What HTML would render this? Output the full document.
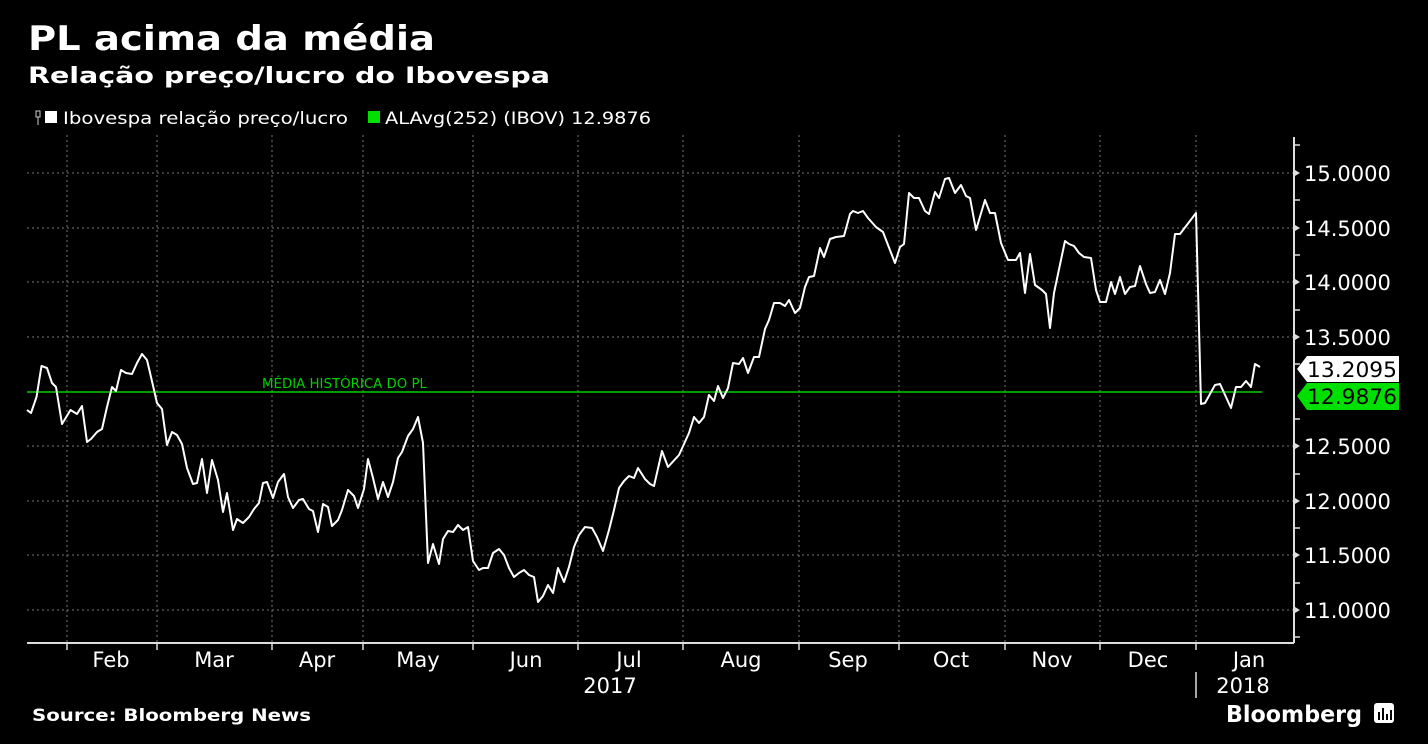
<!DOCTYPE html>
<html><head><meta charset="utf-8"><style>
html,body{margin:0;padding:0;background:#000;}
svg{display:block;font-family:"DejaVu Sans","Liberation Sans",sans-serif;}
</style></head><body>
<svg width="1428" height="744" viewBox="0 0 1428 744" xmlns="http://www.w3.org/2000/svg">
<rect width="1428" height="744" fill="#000"/>
<text x="28" y="50" fill="#fff" font-size="34" font-weight="bold" textLength="407" lengthAdjust="spacingAndGlyphs">PL acima da média</text>
<text x="28" y="83" fill="#fff" font-size="22" font-weight="bold" textLength="522" lengthAdjust="spacingAndGlyphs">Relação preço/lucro do Ibovespa</text>
<g font-size="17" fill="#fff">
<rect x="36" y="111" width="4" height="6" fill="none" stroke="#ccc" stroke-width="1"/>
<line x1="38" y1="117" x2="38" y2="125" stroke="#ccc"/>
<rect x="45" y="111" width="12" height="12" fill="#fff"/>
<text x="63" y="124" textLength="285" lengthAdjust="spacingAndGlyphs">Ibovespa relação preço/lucro</text>
<rect x="368" y="111" width="12" height="12" fill="#00e000"/>
<text x="385" y="124" textLength="266" lengthAdjust="spacingAndGlyphs">ALAvg(252) (IBOV) 12.9876</text>
</g>
<g stroke="#777" stroke-width="1" stroke-dasharray="2,3">
<line x1="27" y1="173" x2="1293" y2="173"/>
<line x1="27" y1="228" x2="1293" y2="228"/>
<line x1="27" y1="282" x2="1293" y2="282"/>
<line x1="27" y1="337" x2="1293" y2="337"/>
<line x1="27" y1="446" x2="1293" y2="446"/>
<line x1="27" y1="501" x2="1293" y2="501"/>
<line x1="27" y1="555" x2="1293" y2="555"/>
<line x1="27" y1="610" x2="1293" y2="610"/>
<line x1="67" y1="135" x2="67" y2="643"/>
<line x1="157" y1="135" x2="157" y2="643"/>
<line x1="272" y1="135" x2="272" y2="643"/>
<line x1="363" y1="135" x2="363" y2="643"/>
<line x1="473" y1="135" x2="473" y2="643"/>
<line x1="578" y1="135" x2="578" y2="643"/>
<line x1="683" y1="135" x2="683" y2="643"/>
<line x1="799" y1="135" x2="799" y2="643"/>
<line x1="899" y1="135" x2="899" y2="643"/>
<line x1="1005" y1="135" x2="1005" y2="643"/>
<line x1="1100" y1="135" x2="1100" y2="643"/>
<line x1="1196" y1="135" x2="1196" y2="643"/>
</g>
<line x1="27" y1="392" x2="1262" y2="392" stroke="#00d000" stroke-width="1.5"/>
<text x="262" y="388" fill="#00d000" font-size="13" textLength="165" lengthAdjust="spacingAndGlyphs">MÉDIA HISTÓRICA DO PL</text>
<g stroke="#ddd" stroke-width="2" fill="none">
<line x1="27" y1="643" x2="1294" y2="643"/>
<line x1="1294" y1="137" x2="1294" y2="643"/>
</g>
<g stroke="#ddd" stroke-width="1.5">
<line x1="67" y1="643" x2="67" y2="650"/><line x1="157" y1="643" x2="157" y2="650"/><line x1="272" y1="643" x2="272" y2="650"/><line x1="363" y1="643" x2="363" y2="650"/><line x1="473" y1="643" x2="473" y2="650"/><line x1="578" y1="643" x2="578" y2="650"/><line x1="683" y1="643" x2="683" y2="650"/><line x1="799" y1="643" x2="799" y2="650"/><line x1="899" y1="643" x2="899" y2="650"/><line x1="1005" y1="643" x2="1005" y2="650"/><line x1="1100" y1="643" x2="1100" y2="650"/><line x1="1196" y1="643" x2="1196" y2="650"/>
<line x1="1196" y1="672" x2="1196" y2="698"/>
<line x1="1294" y1="145" x2="1300" y2="145"/><line x1="1294" y1="200" x2="1300" y2="200"/><line x1="1294" y1="255" x2="1300" y2="255"/><line x1="1294" y1="310" x2="1300" y2="310"/><line x1="1294" y1="364" x2="1300" y2="364"/><line x1="1294" y1="419" x2="1300" y2="419"/><line x1="1294" y1="474" x2="1300" y2="474"/><line x1="1294" y1="528" x2="1300" y2="528"/><line x1="1294" y1="583" x2="1300" y2="583"/><line x1="1294" y1="637" x2="1300" y2="637"/>
</g>
<g fill="#ddd">
<polygon points="1295,170 1300,173 1295,176"/><polygon points="1295,225 1300,228 1295,231"/><polygon points="1295,279 1300,282 1295,285"/><polygon points="1295,334 1300,337 1295,340"/><polygon points="1295,443 1300,446 1295,449"/><polygon points="1295,498 1300,501 1295,504"/><polygon points="1295,552 1300,555 1295,558"/><polygon points="1295,607 1300,610 1295,613"/>
</g>
<g fill="#fff" font-size="21">
<text x="1304" y="181">15.0000</text><text x="1304" y="236">14.5000</text><text x="1304" y="290">14.0000</text><text x="1304" y="345">13.5000</text><text x="1304" y="454">12.5000</text><text x="1304" y="509">12.0000</text><text x="1304" y="563">11.5000</text><text x="1304" y="618">11.0000</text>
</g>
<polygon points="1297,369 1307,356 1399,356 1399,382 1307,382" fill="#fff"/>
<text x="1307" y="377" fill="#000" font-size="21" textLength="90" lengthAdjust="spacingAndGlyphs">13.2095</text>
<polygon points="1297,396 1307,383 1399,383 1399,410 1307,410" fill="#00e000"/>
<text x="1307" y="404" fill="#000" font-size="21" textLength="90" lengthAdjust="spacingAndGlyphs">12.9876</text>
<polyline fill="none" stroke="#fff" stroke-width="2" stroke-linejoin="round" points="27,410 31,413 36.5,397 41.5,366 47,368 52,383 56,387 62,424 70.5,410 77,414 82,406 87,442 91,439 97,432 102,429 107,407 112,387 116,391 121,370 126,373 132,374 137,363 142,354 147,360 151,377 157,403 162,409 167,445 172,432 177,435 182,444 187,468 193,484 197,483 202,459 207,493 212,460 218,480 223,512 227,493 233,530 237,519 243,523 249,517 254,509 259,503 263,483 267,482 273,498 278,482 284,474 288,497 293,508 299,500 303,499 309,509 313,511 318,532 323,504 328,507 332,526 338,520 342,510 348,490 354,496 358,508 364,489 368,459 373,478 378,499 383,482 388,497 393,482 398,458 402,452 408,436 413,429 418,417 423,443 428,563 433,544 439,564 443,539 448,531 453,532 458,525 463,530 468,527 473,561 479,570 483,568 488,568 493,553 499,549 504,555 509,568 514,577 519,573 524,570 529,575 534,577 538,602 543,596 548,585 553,593 558,568 564,582 569,567 574,547 579,535 585,527 592,528 597,537 603,551 609,530 614,510 619,488 624,481 629,476 634,478 638,468 645,479 650,484 654,486 662,451 668,467 679,455 689,433 694,417 699,423 704,417 709,395 714,401 718,386 723,398 728,388 733,363 739,364 743,358 748,373 754,357 759,357 765,329 769,320 774,303 780,303 785,306 789,300 795,313 800,308 805,287 809,277 814,276 820,248 824,257 830,239 836,237 844,236 850,214 853,211 858,213 863,211 868,218 876,227 883,232 888,245 895,263 900,247 904,244 909,193 914,198 919,198 925,211 929,214 935,192 939,198 945,179 949,178 955,193 961,185 966,196 970,198 976,230 985,200 990,213 995,213 1001,243 1008,260 1016,260 1020,253 1025,293 1030,254 1035,285 1042,290 1046,294 1050,328 1054,293 1065,241 1069,244 1074,246 1079,253 1084,257 1091,258 1096,290 1100,302 1106,302 1111,282 1115,294 1120,277 1125,294 1130,287 1135,286 1140,266 1146,284 1150,293 1155,292 1160,280 1165,294 1170,273 1175,234 1180,234 1196,213 1201,404 1205,403 1215,385 1220,384 1231,408 1236,387 1241,387 1246,381 1251,387 1255,364 1260,367"/>
<g fill="#fff" font-size="21" text-anchor="middle">
<text x="111" y="667">Feb</text><text x="214" y="667">Mar</text><text x="317" y="667">Apr</text><text x="418" y="667">May</text><text x="526" y="667">Jun</text><text x="629" y="667">Jul</text><text x="741" y="667">Aug</text><text x="848" y="667">Sep</text><text x="951" y="667">Oct</text><text x="1052" y="667">Nov</text><text x="1148" y="667">Dec</text><text x="1249" y="667">Jan</text>
<text x="610" y="693">2017</text><text x="1243" y="693">2018</text>
</g>
<text x="32" y="721" fill="#fff" font-size="17" font-weight="bold" textLength="279" lengthAdjust="spacingAndGlyphs">Source: Bloomberg News</text>
<text x="1226" y="722" fill="#fff" font-size="23" font-weight="bold" textLength="136" lengthAdjust="spacingAndGlyphs">Bloomberg</text>
<rect x="1374" y="703" width="20" height="20" rx="3" fill="#fff"/>
<g fill="#000"><rect x="1378" y="712" width="2" height="8"/><rect x="1382" y="708" width="2" height="12"/><rect x="1386" y="714" width="2" height="6"/><rect x="1390" y="710" width="2" height="10"/></g>
</svg>
</body></html>
